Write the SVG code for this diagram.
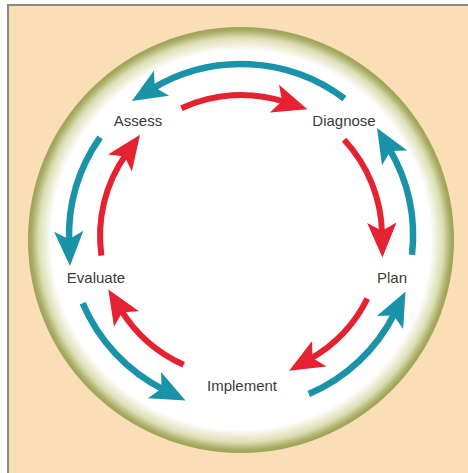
<svg xmlns="http://www.w3.org/2000/svg" width="468" height="473" viewBox="0 0 468 473">
<style>
.lbl{font-family:"Liberation Sans",Arial,sans-serif;font-size:15px;fill:#3a3a3a;text-anchor:middle}
.teal{fill:none;stroke:#1a92a8;stroke-width:6.5}
.red{fill:none;stroke:#e52231;stroke-width:6}
</style>
<defs>
<radialGradient id="ring" cx="241" cy="240" r="213" gradientUnits="userSpaceOnUse">
<stop offset="0" stop-color="#ffffff"/>
<stop offset="0.89" stop-color="#ffffff"/>
<stop offset="0.95" stop-color="#dcdeb4"/>
<stop offset="0.985" stop-color="#a8ab62"/>
<stop offset="1" stop-color="#9ea257"/>
</radialGradient>
<marker id="mt" markerUnits="userSpaceOnUse" markerWidth="40" markerHeight="40" viewBox="-10 -15 30 30" refX="0" refY="0" orient="auto">
<path d="M18,0 L-8,-11 L-2,0 L-8,11 Z" fill="#1a92a8"/>
</marker>
<marker id="mr" markerUnits="userSpaceOnUse" markerWidth="40" markerHeight="40" viewBox="-10 -15 30 30" refX="0" refY="0" orient="auto">
<path d="M18,0 L-8,-11 L-2,0 L-8,11 Z" fill="#e52231"/>
</marker>
</defs>
<rect x="0" y="0" width="468" height="473" fill="#ffffff"/>
<rect x="8" y="5" width="470" height="480" fill="#fadfb6" stroke="#8a8a80" stroke-width="2"/>
<circle id="ringcircle" cx="241" cy="240" r="213" fill="url(#ring)"/>
<g id="connectors">
<path class="teal" marker-end="url(#mt)" d="M344.5,98.6 A172,172 0 0 0 152.4,88.6"/>
<path class="teal" marker-end="url(#mt)" d="M100.1,137.3 A172,172 0 0 0 69.1,242"/>
<path class="teal" marker-end="url(#mt)" d="M82.7,303.2 A172,172 0 0 0 164,389.8"/>
<path class="teal" marker-end="url(#mt)" d="M308.8,394.1 A172,172 0 0 0 394.8,313"/>
<path class="teal" marker-end="url(#mt)" d="M412,254.9 A172,172 0 0 0 389.2,148.7"/>
<path class="red" marker-end="url(#mr)" d="M181.4,108.2 A141,141 0 0 1 284.6,101.9"/>
<path class="red" marker-end="url(#mr)" d="M344.1,139.8 A141,141 0 0 1 382,233.5"/>
<path class="red" marker-end="url(#mr)" d="M367.3,298.7 A141,141 0 0 1 310,359"/>
<path class="red" marker-end="url(#mr)" d="M183.7,364.8 A141,141 0 0 1 120.9,309.9"/>
<path class="red" marker-end="url(#mr)" d="M101.4,255.6 A141,141 0 0 1 126.1,154.3"/>
</g>
<g id="assess"><text class="lbl" x="138" y="126">Assess</text></g>
<g id="diagnose"><text class="lbl" x="344" y="126">Diagnose</text></g>
<g id="plan"><text class="lbl" x="392" y="283">Plan</text></g>
<g id="implement"><text class="lbl" x="242" y="391">Implement</text></g>
<g id="evaluate"><text class="lbl" x="96" y="283">Evaluate</text></g>
</svg>
